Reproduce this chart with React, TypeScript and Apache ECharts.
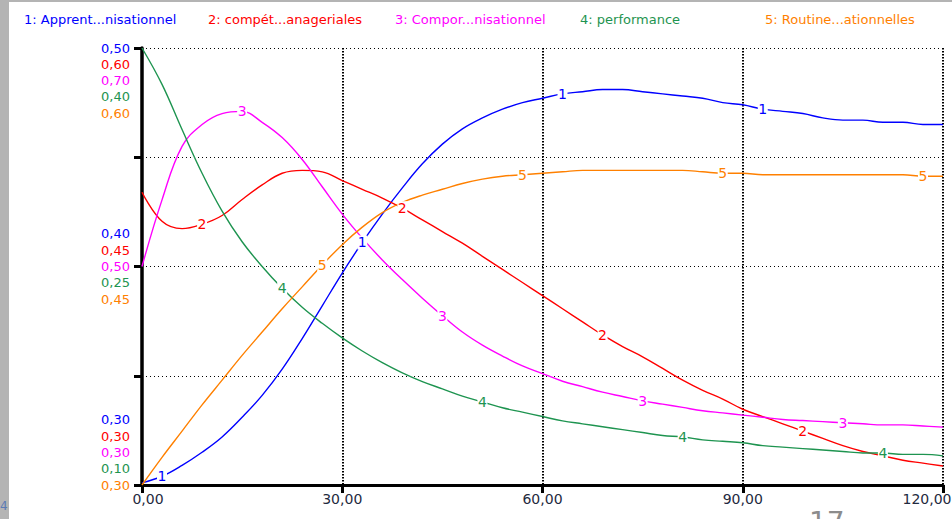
import React, { useEffect, useRef } from "react";
import * as echarts from "echarts";

// Simulation time (x axis)
const times = [
  0, 3, 6, 9, 12, 15, 18, 21, 24, 27, 30, 33, 36, 39, 42, 45, 48, 51, 54, 57, 60,
  63, 66, 69, 72, 75, 78, 81, 84, 87, 90, 93, 96, 99, 102, 105, 108, 111, 114, 117, 120,
];

const seriesNames = [
  "1: Apprent...nisationnel",
  "2: compét...anageriales",
  "3: Compor...nisationnel",
  "4: performance",
  "5: Routine...ationnelles",
];

const apprentissage = [
  0.301, 0.304, 0.309, 0.315, 0.322, 0.331, 0.341, 0.353, 0.367, 0.382, 0.397, 0.411, 0.424, 0.436,
  0.447, 0.456, 0.463, 0.468, 0.472, 0.475, 0.477, 0.479, 0.48, 0.481, 0.481, 0.48, 0.479, 0.478,
  0.477, 0.475, 0.474, 0.472, 0.471, 0.47, 0.468, 0.467, 0.467, 0.466, 0.466, 0.465, 0.465,
];
const competences = [
  0.501, 0.481, 0.476, 0.479, 0.485, 0.496, 0.506, 0.514, 0.516, 0.515, 0.509, 0.503, 0.497, 0.49,
  0.482, 0.474, 0.466, 0.457, 0.448, 0.439, 0.43, 0.421, 0.412, 0.403, 0.395, 0.388, 0.38, 0.372,
  0.365, 0.359, 0.352, 0.347, 0.342, 0.337, 0.332, 0.327, 0.323, 0.32, 0.317, 0.315, 0.313,
];
const comportement = [
  0.5, 0.561, 0.61, 0.63, 0.64, 0.642, 0.632, 0.618, 0.598, 0.573, 0.548, 0.526, 0.506, 0.488,
  0.471, 0.455, 0.44, 0.428, 0.418, 0.409, 0.402, 0.395, 0.39, 0.385, 0.381, 0.377, 0.374, 0.371,
  0.368, 0.366, 0.364, 0.362, 0.36, 0.359, 0.358, 0.357, 0.356, 0.355, 0.355, 0.354, 0.353,
];
const performance = [
  0.4, 0.375, 0.344, 0.314, 0.288, 0.267, 0.25, 0.235, 0.222, 0.211, 0.201, 0.192, 0.184, 0.177,
  0.171, 0.166, 0.161, 0.157, 0.153, 0.15, 0.147, 0.144, 0.142, 0.14, 0.138, 0.136, 0.134, 0.133,
  0.131, 0.13, 0.129, 0.127, 0.126, 0.125, 0.124, 0.123, 0.122, 0.122, 0.121, 0.121, 0.12,
];
const routines = [
  0.3, 0.319, 0.337, 0.355, 0.372, 0.389, 0.405, 0.421, 0.436, 0.451, 0.465, 0.477, 0.487, 0.494,
  0.499, 0.503, 0.507, 0.51, 0.512, 0.513, 0.514, 0.515, 0.516, 0.516, 0.516, 0.516, 0.516, 0.516,
  0.515, 0.514, 0.514, 0.513, 0.513, 0.513, 0.513, 0.513, 0.513, 0.513, 0.513, 0.512, 0.512,
];

// Each variable has its own vertical scale
const scaleMin = [0.3, 0.3, 0.3, 0.1, 0.3];
const scaleMax = [0.5, 0.6, 0.7, 0.4, 0.6];

// Indices (into times) where the curve number is written on each line
const labelPoints = [
  [1, 11, 21, 31],
  [3, 13, 23, 33],
  [5, 15, 25, 35],
  [7, 17, 27, 37],
  [9, 19, 29, 39],
];

const xTicks = { min: 0, max: 120, step: 30 };

const colors = ["#0000ff", "#ff0000", "#ff00ff", "#1e9450", "#ff8000"];
const legendLeft = [14, 198, 385, 570, 755];
const FONT = "DejaVu Sans";

const seriesValues = [apprentissage, competences, comportement, performance, routines];

const fmt = (v: number) => v.toFixed(2).replace(".", ",");

function stackedLabel(step: number): string {
  const lines = scaleMin.map((mn, i) => {
    const v = mn + ((scaleMax[i] - mn) * step) / 4;
    return `{s${i}|${fmt(v)}}`;
  });
  const blanks = ["{e| }", "{e| }", "{e| }", "{e| }"];
  if (step === 4) return [...blanks, ...lines].join("\n");
  if (step === 0) return [...lines, ...blanks].join("\n");
  if (step === 2) return lines.join("\n");
  return "";
}

export default function App() {
  const ref = useRef<HTMLDivElement>(null);

  useEffect(() => {
    if (!ref.current) return;
    const chart = echarts.init(ref.current, undefined, { renderer: "svg" });

    const rich: Record<string, any> = {
      e: { fontSize: 13, lineHeight: 16.3, fontFamily: FONT },
    };
    colors.forEach((c, i) => {
      rich[`s${i}`] = { color: c, fontSize: 13, lineHeight: 16.3, fontFamily: FONT };
    });

    const yAxes: any[] = [
      {
        type: "value",
        min: 0,
        max: 4,
        interval: 1,
        position: "left",
        axisLine: { show: true, lineStyle: { color: "#000", width: 3.5 } },
        axisTick: { show: true, length: 8, lineStyle: { color: "#000", width: 3 } },
        axisLabel: {
          margin: 12,
          formatter: (v: number) => stackedLabel(Math.round(v)),
          rich,
        },
        splitLine: { show: true, lineStyle: { color: "#000", width: 1, type: [1, 3] } },
      },
    ];
    scaleMin.forEach((mn, i) => {
      yAxes.push({ type: "value", min: mn, max: scaleMax[i], show: false, splitLine: { show: false } });
    });

    const series = seriesValues.map((vals, i) => ({
      name: seriesNames[i],
      type: "line",
      yAxisIndex: i + 1,
      data: times.map((t, j) => [t, vals[j]]),
      showSymbol: false,
      symbol: "none",
      smooth: 0.4,
      lineStyle: { color: colors[i], width: 1.4 },
      itemStyle: { color: colors[i] },
      z: 3,
      markPoint: {
        silent: true,
        symbol: "rect",
        symbolSize: [10, 14],
        itemStyle: { color: "#ffffff" },
        label: {
          show: true,
          position: "inside",
          formatter: String(i + 1),
          color: colors[i],
          fontSize: 14,
          fontFamily: FONT,
        },
        data: labelPoints[i].map((j) => ({ coord: [times[j], vals[j]] })),
      },
    }));

    const legends = seriesNames.map((n, i) => ({
      left: legendLeft[i],
      top: 8,
      orient: "horizontal",
      icon: "rect",
      itemWidth: 0,
      itemHeight: 0,
      selectedMode: false,
      textStyle: { fontFamily: FONT, fontSize: 13 },
      data: [{ name: n, textStyle: { color: colors[i], fontFamily: FONT, fontSize: 13 } }],
    }));

    chart.setOption({
      animation: false,
      backgroundColor: "#ffffff",
      textStyle: { fontFamily: FONT },
      legend: legends,
      grid: { left: 142, right: 9, top: 48, bottom: 34, containLabel: false, outerBoundsMode: "none" },
      xAxis: {
        type: "value",
        min: xTicks.min,
        max: xTicks.max,
        interval: xTicks.step,
        axisLine: { show: true, lineStyle: { color: "#000", width: 3 } },
        axisTick: { show: true, length: 8, lineStyle: { color: "#000", width: 3 } },
        axisLabel: {
          margin: 7,
          color: "#1f2a40",
          fontSize: 14,
          fontFamily: FONT,
          formatter: (v: number) => {
            if (v === xTicks.min) return `{l|${fmt(v)}}`;
            if (v === xTicks.max) return `{r|${fmt(v)}}`;
            return fmt(v);
          },
          rich: {
            l: { color: "#1f2a40", fontSize: 14, fontFamily: FONT, padding: [0, 0, 0, 12] },
            r: { color: "#1f2a40", fontSize: 14, fontFamily: FONT, padding: [0, 32, 0, 0] },
          },
        },
        splitLine: { show: true, lineStyle: { color: "#000", width: 2, type: [1.5, 1.5] } },
      },
      yAxis: yAxes,
      series,
      graphic: [
        { type: "rect", shape: { x: 0, y: 0, width: 9, height: 519 }, style: { fill: "#b4b4b4" }, silent: true },
        { type: "rect", shape: { x: 0, y: 0, width: 952, height: 2 }, style: { fill: "#b4b4b4" }, silent: true },
        {
          type: "text",
          x: 0,
          y: 500,
          style: { text: "4", fill: "#5b7bb5", fontSize: 12, fontFamily: FONT },
          silent: true,
        },
        {
          type: "text",
          x: 809,
          y: 508,
          style: { text: "17", fill: "#8c8c8c", fontSize: 28, fontFamily: FONT },
          silent: true,
        },
      ],
    });

    return () => chart.dispose();
  }, []);

  return (
    <div
      ref={ref}
      style={{ position: "fixed", left: 0, top: 0, width: 952, height: 519, background: "#fff" }}
    />
  );
}
